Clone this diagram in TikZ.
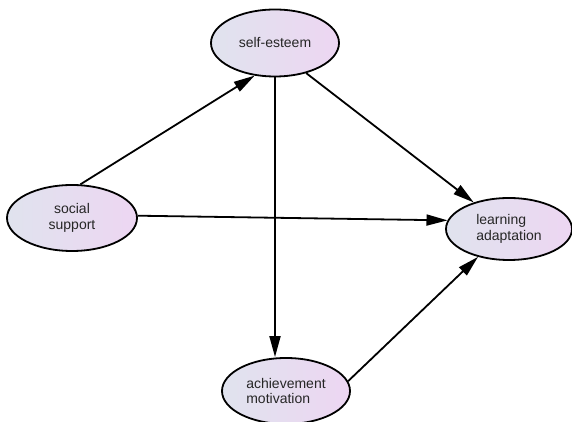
\documentclass[tikz,border=0pt]{standalone}
\usepackage{fontspec}
\setmainfont{Liberation Sans}
\usepackage{tikz}
\usetikzlibrary{arrows.meta,shapes.geometric}

\definecolor{ovalleft}{RGB}{224,227,238}
\definecolor{ovalright}{RGB}{237,214,242}

\begin{document}
\begin{tikzpicture}[x=1pt,y=1pt,>={Triangle[length=21pt,width=11pt]},line width=1.8pt,
		var/.style={ellipse,draw,left color=ovalleft,right color=ovalright,inner sep=0pt,
			minimum width=128pt,minimum height=66pt,font=\fontsize{14}{15.5}\selectfont,text=black!85}]
			\useasboundingbox (0,0) rectangle (572,422);
			\node[var,minimum height=67pt] (self_est) at (275,379) {self-esteem};
			\node[var,minimum width=130pt,align=center] (soc_sup) at (72,204) {social\\support};
			\node[var,minimum width=126pt,minimum height=62pt,align=left] (learn_ad) at (509,193) {learning\\adaptation};
			\node[var,align=left] (ach_mot) at (286,31) {achievement\\motivation};
			\path[->]
				(soc_sup.76) edge (self_est.238)
				(self_est.316) edge (learn_ad.143)
				(self_est.south) edge (self_est.south |- ach_mot.north)
				(soc_sup.2) edge (learn_ad.172)
				(ach_mot.9) edge (learn_ad.222);
		\end{tikzpicture}
\end{document}
